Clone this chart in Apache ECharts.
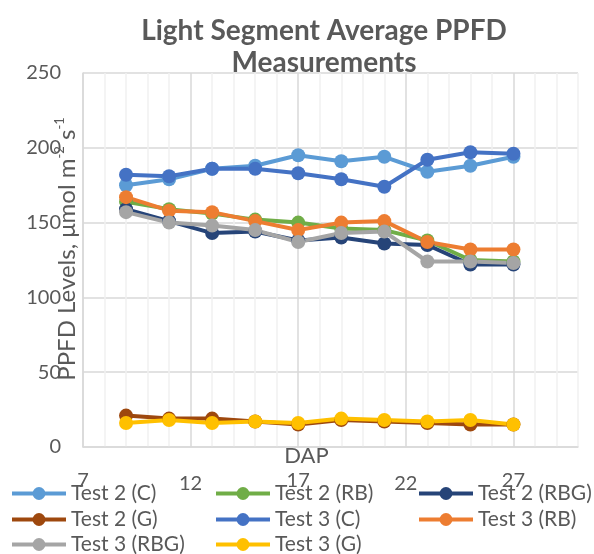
<!DOCTYPE html>
<html>
<head>
<meta charset="utf-8">
<script src="https://cdn.jsdelivr.net/npm/echarts@6/dist/echarts.min.js"></script>
<style>
html,body{margin:0;padding:0;background:#fff;}
#chart{width:594px;height:554px;}
</style>
</head>
<body>
<div id="chart"></div>
<script>
const days = [9, 11, 13, 15, 17, 19, 21, 23, 25, 27];
const test2C   = [175, 179, 186, 188, 195, 191, 194, 184, 188, 194];
const test2RB  = [164, 159, 156, 152, 150, 146, 145, 138, 125, 124];
const test2RBG = [159, 151, 143, 144, 138, 140, 136, 135, 122, 122];
const test2G   = [21, 19, 19, 17, 15, 18, 17, 16, 15, 15];
const test3C   = [182, 181, 186, 186, 183, 179, 174, 192, 197, 196];
const test3RB  = [167, 158, 157, 151, 145, 150, 151, 137, 132, 132];
const test3RBG = [157, 150, 148, 145, 137, 143, 144, 124, 124, 123];
const test3G   = [16, 18, 16, 17, 16, 19, 18, 17, 18, 15];
const xTickLabels = ['7', '12', '17', '22', '27'];
const seriesNames = ['Test 2 (C)', 'Test 2 (RB)', 'Test 2 (RBG)', 'Test 2 (G)', 'Test 3 (C)', 'Test 3 (RB)', 'Test 3 (RBG)', 'Test 3 (G)'];
const seriesValues = [test2C, test2RB, test2RBG, test2G, test3C, test3RB, test3RBG, test3G];
const seriesColors = ['#5B9BD5', '#70AD47', '#264478', '#9E480E', '#4472C4', '#ED7D31', '#A5A5A5', '#FFC000'];

const FONT = 'Lato';
const TXT = '#595959';

const legendPos = [
  [10, 483], [214, 483], [417, 483],
  [10, 509], [214, 509], [417, 509],
  [10, 534], [214, 534]
];

const chart = echarts.init(document.getElementById('chart'));
chart.setOption({
  animation: false,
  backgroundColor: '#fff',
  title: {
    text: 'Light Segment Average PPFD\nMeasurements',
    left: 319,
    textAlign: 'center',
    top: 10,
    textStyle: { fontFamily: FONT, fontWeight: 'bold', fontSize: 28, color: TXT, lineHeight: 32 }
  },
  legend: seriesNames.map((n, i) => ({
    data: [n],
    left: legendPos[i][0],
    top: legendPos[i][1],
    itemWidth: 54,
    itemHeight: 16,
    itemGap: 0,
    padding: 0,
    lineStyle: { width: 4 },
    textStyle: { fontFamily: FONT, fontSize: 21, color: TXT }
  })),
  grid: { left: 83, right: 16, top: 73, bottom: 107, containLabel: false },
  xAxis: {
    type: 'value',
    min: 7,
    max: 30,
    interval: 1,
    name: 'DAP',
    nameLocation: 'middle',
    nameGap: -2,
    nameMoveOverlap: false,
    nameTextStyle: { fontFamily: FONT, fontSize: 22, color: TXT, padding: [0, 48, 0, 0] },
    axisLine: { show: true, lineStyle: { color: '#d9d9d9', width: 1.5 } },
    axisTick: { show: false },
    axisLabel: {
      margin: 24,
      fontFamily: FONT, fontSize: 20, color: TXT,
      formatter: v => {
        const k = xTickLabels.indexOf(String(v));
        if (k < 0) return '';
        return k % 2 === 1 ? '{lo|' + v + '}' : String(v);
      },
      rich: { lo: { fontFamily: FONT, fontSize: 20, color: TXT, padding: [3, 0, 0, 0] } }
    },
    splitLine: { show: true, lineStyle: { color: ['#d9d9d9', '#f0f0f0', '#f0f0f0', '#f0f0f0', '#f0f0f0'], width: 1.5 } }
  },
  yAxis: {
    type: 'value',
    min: 0,
    max: 250,
    interval: 50,
    name: '{n|PPFD Levels, μmol m}{s|-2}{n| s}{s|-1}',
    nameLocation: 'middle',
    nameGap: 4,
    nameMoveOverlap: false,
    nameTextStyle: {
      padding: [0, 0, 0, 22],
      rich: {
        n: { fontFamily: FONT, fontSize: 24, color: TXT, lineHeight: 26, verticalAlign: 'bottom' },
        s: { fontFamily: FONT, fontSize: 13, color: TXT, lineHeight: 26, verticalAlign: 'top' }
      }
    },
    axisLine: { show: true, lineStyle: { color: '#d9d9d9', width: 1.5 } },
    axisTick: { show: false },
    axisLabel: { margin: 22, fontFamily: FONT, fontSize: 20, color: TXT },
    splitLine: { show: true, lineStyle: { color: '#d9d9d9', width: 1.5 } }
  },
  series: seriesNames.map((n, i) => ({
    name: n,
    type: 'line',
    data: days.map((d, j) => [d, seriesValues[i][j]]),
    symbol: 'circle',
    symbolSize: 14,
    color: seriesColors[i],
    lineStyle: { width: 4, color: seriesColors[i] },
    itemStyle: { color: seriesColors[i] },
    emphasis: { disabled: true }
  }))
});
</script>
</body>
</html>
